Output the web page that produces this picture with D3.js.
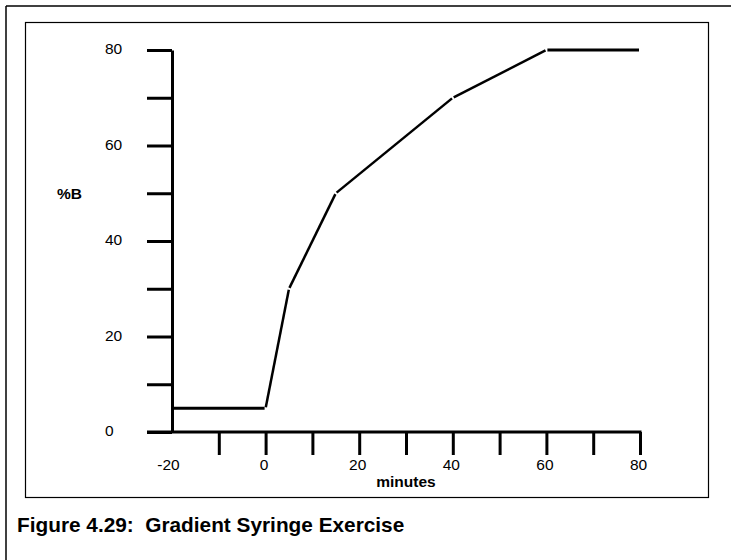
<!DOCTYPE html>
<html>
<head>
<meta charset="utf-8">
<script src="https://cdn.jsdelivr.net/npm/d3@7"></script>
<style>
  html, body { margin: 0; padding: 0; background: #fff; }
  svg { display: block; }
  text { font-family: "Liberation Sans", Arial, Helvetica, sans-serif; fill: #000; }
</style>
</head>
<body>
<svg id="chart" width="731" height="560"></svg>
<script>
// Gradient program: time (minutes) vs. percent solvent B
const minutes = [-20, 0, 5, 15, 40, 60, 80];
const percentB = [5, 5, 30, 50, 70, 80, 80];

const xTicks = [-20, -10, 0, 10, 20, 30, 40, 50, 60, 70, 80];
const yTicks = [0, 10, 20, 30, 40, 50, 60, 70, 80];
const labelEvery = 20;

const xTitle = "minutes";
const yTitle = "%B";
const caption = "Figure 4.29:  Gradient Syringe Exercise";

const svg = d3.select("#chart");

// Page rules and panel frame
svg.append("line").attr("x1", 6).attr("y1", 6).attr("x2", 731).attr("y2", 6)
  .attr("stroke", "#000").attr("stroke-width", 1.5);
svg.append("line").attr("x1", 6).attr("y1", 6).attr("x2", 6).attr("y2", 560)
  .attr("stroke", "#000").attr("stroke-width", 1.5);
svg.append("rect").attr("x", 25.5).attr("y", 22.5).attr("width", 683).attr("height", 475)
  .attr("fill", "none").attr("stroke", "#000").attr("stroke-width", 1.2);

const x = d3.scaleLinear().domain([-20, 80]).range([172, 640]);
const y = d3.scaleLinear().domain([0, 80]).range([432, 50]);

const tickLen = 25;

// Y axis
const yAxis = svg.append("g")
  .attr("transform", `translate(${x(-20)},0)`)
  .call(d3.axisLeft(y).tickValues(yTicks).tickSize(tickLen).tickSizeOuter(0)
    .tickFormat(d => d % labelEvery === 0 ? d : ""));
yAxis.select(".domain").attr("stroke-width", 3).attr("stroke", "#000");
yAxis.selectAll(".tick line").attr("stroke-width", 3).attr("stroke", "#000");
yAxis.selectAll(".tick text")
  .attr("x", -67).attr("dy", "0.25em")
  .attr("text-anchor", "start")
  .style("font-size", "15.5px").attr("fill", "#000");

// X axis
const xAxis = svg.append("g")
  .attr("transform", `translate(0,${y(0)})`)
  .call(d3.axisBottom(x).tickValues(xTicks).tickSize(23).tickSizeOuter(0)
    .tickFormat(d => d % labelEvery === 0 ? d : ""));
xAxis.select(".domain").remove();
xAxis.append("line")
  .attr("x1", x(-20) - tickLen).attr("x2", x(80) + 1.5)
  .attr("y1", 0).attr("y2", 0)
  .attr("stroke", "#000").attr("stroke-width", 3);
xAxis.selectAll(".tick").filter(d => d === -20).select("line").remove();
xAxis.selectAll(".tick line").attr("stroke-width", 3).attr("stroke", "#000");
xAxis.selectAll(".tick text")
  .attr("y", 38).attr("dy", 0).attr("dx", d => d < 0 ? -4 : -2)
  .style("font-size", "15.5px").attr("fill", "#000");

// Axis titles
svg.append("text").attr("x", 406).attr("y", 487)
  .attr("text-anchor", "middle")
  .style("font-size", "15.5px").style("font-weight", "bold")
  .text(xTitle);
svg.append("text").attr("x", 57).attr("y", 199)
  .style("font-size", "15.5px").style("font-weight", "bold")
  .text(yTitle);

// Gradient profile, drawn as separate straight segments
const pts = minutes.map((m, i) => [x(m), y(percentB[i])]);
const segs = d3.pairs(pts);
const gap = 1;
svg.append("g").selectAll("line")
  .data(segs)
  .join("line")
  .each(function([a, b]) {
    const dx = b[0] - a[0], dy = b[1] - a[1];
    const len = Math.hypot(dx, dy);
    const ux = dx / len, uy = dy / len;
    d3.select(this)
      .attr("x1", a[0] + ux * gap).attr("y1", a[1] + uy * gap)
      .attr("x2", b[0] - ux * gap).attr("y2", b[1] - uy * gap);
  })
  .attr("stroke", "#000")
  .attr("stroke-width", (d) => d[0][1] === d[1][1] ? 3 : 2.5)
  .attr("stroke-linecap", "butt");

// Caption
svg.append("text").attr("x", 17).attr("y", 532)
  .style("font-size", "20.8px").style("font-weight", "bold")
  .style("white-space", "pre")
  .text(caption);
</script>
</body>
</html>
